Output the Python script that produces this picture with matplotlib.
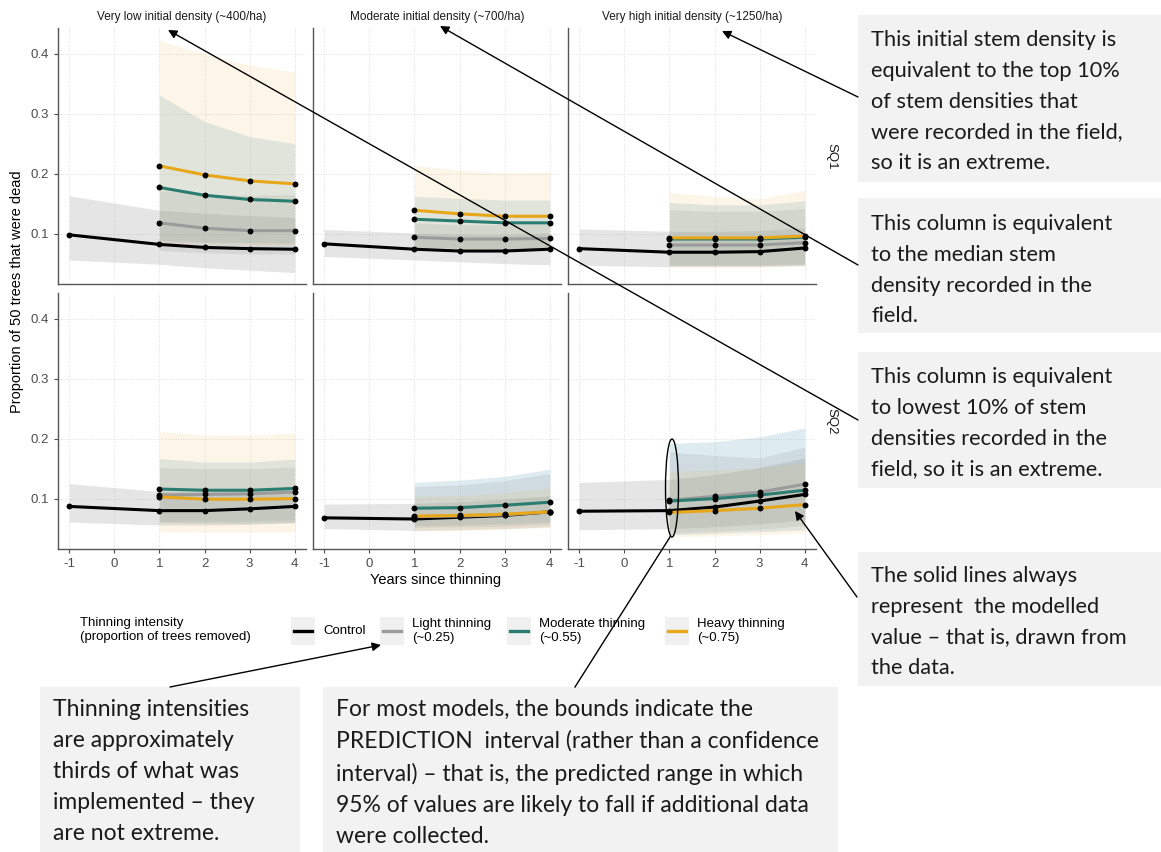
import matplotlib
matplotlib.use("Agg")
import matplotlib.pyplot as plt
import matplotlib.patches as patches
from matplotlib.lines import Line2D

plt.rcParams['font.family'] = ['Liberation Sans', 'DejaVu Sans']

# ---- data -------------------------------------------------------------
# panel order: SQ1 (low, moderate, very high), SQ2 (low, moderate, very high)
density_labels = ["Very low initial density (~400/ha)",
                  "Moderate initial density (~700/ha)",
                  "Very high initial density (~1250/ha)"]
site_labels = ["SQ1", "SQ2"]

years_control = [-1, 1, 2, 3, 4]
years_thin = [1, 2, 3, 4]

control_mean = [
    [0.098, 0.082, 0.077, 0.075, 0.074],
    [0.083, 0.074, 0.071, 0.071, 0.074],
    [0.075, 0.069, 0.069, 0.070, 0.076],
    [0.087, 0.080, 0.080, 0.083, 0.087],
    [0.068, 0.066, 0.069, 0.072, 0.078],
    [0.079, 0.080, 0.086, 0.096, 0.107],
]
control_lo = [
    [0.056, 0.049, 0.043, 0.039, 0.035],
    [0.062, 0.056, 0.053, 0.050, 0.048],
    [0.047, 0.045, 0.045, 0.045, 0.047],
    [0.061, 0.056, 0.056, 0.057, 0.060],
    [0.050, 0.047, 0.048, 0.050, 0.053],
    [0.048, 0.050, 0.053, 0.058, 0.064],
]
control_hi = [
    [0.163, 0.139, 0.134, 0.130, 0.127],
    [0.107, 0.101, 0.099, 0.099, 0.101],
    [0.108, 0.104, 0.104, 0.105, 0.110],
    [0.125, 0.112, 0.112, 0.115, 0.120],
    [0.091, 0.092, 0.095, 0.099, 0.105],
    [0.127, 0.132, 0.140, 0.152, 0.168],
]

light_mean = [
    [0.118, 0.109, 0.105, 0.105],
    [0.094, 0.091, 0.091, 0.092],
    [0.081, 0.081, 0.081, 0.085],
    [0.106, 0.107, 0.108, 0.111],
    [0.070, 0.071, 0.073, 0.078],
    [0.097, 0.104, 0.111, 0.124],
]
light_lo = [
    [0.072, 0.068, 0.066, 0.066],
    [0.074, 0.072, 0.072, 0.073],
    [0.048, 0.048, 0.048, 0.050],
    [0.062, 0.062, 0.063, 0.065],
    [0.052, 0.053, 0.054, 0.057],
    [0.043, 0.046, 0.049, 0.055],
]
light_hi = [
    [0.172, 0.166, 0.164, 0.165],
    [0.118, 0.115, 0.115, 0.116],
    [0.140, 0.137, 0.137, 0.142],
    [0.152, 0.150, 0.150, 0.153],
    [0.120, 0.123, 0.130, 0.142],
    [0.178, 0.172, 0.168, 0.186],
]

moderate_mean = [
    [0.177, 0.164, 0.157, 0.154],
    [0.124, 0.121, 0.118, 0.118],
    [0.091, 0.091, 0.091, 0.094],
    [0.116, 0.114, 0.114, 0.117],
    [0.084, 0.085, 0.089, 0.094],
    [0.096, 0.100, 0.106, 0.114],
]
moderate_lo = [
    [0.088, 0.086, 0.085, 0.084],
    [0.078, 0.076, 0.075, 0.075],
    [0.047, 0.047, 0.047, 0.048],
    [0.060, 0.059, 0.059, 0.060],
    [0.055, 0.056, 0.058, 0.061],
    [0.040, 0.042, 0.045, 0.048],
]
moderate_hi = [
    [0.331, 0.287, 0.262, 0.250],
    [0.162, 0.159, 0.156, 0.156],
    [0.152, 0.148, 0.148, 0.155],
    [0.167, 0.161, 0.161, 0.166],
    [0.127, 0.131, 0.137, 0.149],
    [0.192, 0.195, 0.203, 0.218],
]

heavy_mean = [
    [0.213, 0.198, 0.188, 0.183],
    [0.139, 0.133, 0.129, 0.129],
    [0.093, 0.093, 0.093, 0.096],
    [0.103, 0.099, 0.099, 0.100],
    [0.071, 0.072, 0.074, 0.078],
    [0.077, 0.080, 0.084, 0.090],
]
heavy_lo = [
    [0.086, 0.084, 0.082, 0.081],
    [0.076, 0.074, 0.073, 0.073],
    [0.044, 0.044, 0.044, 0.046],
    [0.045, 0.044, 0.044, 0.045],
    [0.046, 0.047, 0.049, 0.052],
    [0.036, 0.038, 0.040, 0.043],
]
heavy_hi = [
    [0.422, 0.400, 0.381, 0.369],
    [0.214, 0.206, 0.201, 0.203],
    [0.169, 0.162, 0.158, 0.172],
    [0.212, 0.206, 0.206, 0.209],
    [0.104, 0.105, 0.110, 0.118],
    [0.145, 0.148, 0.152, 0.160],
]

legend_labels = ["Control", "Light thinning\n(~0.25)",
                 "Moderate thinning\n(~0.55)", "Heavy thinning\n(~0.75)"]

# ---- styling ----------------------------------------------------------
line_cols = ["#000000", "#9b9b9b", "#2b7d71", "#e8a619"]
fill_cols = ["#999999", "#7f7f7f", "#5b9bb5", "#f2b544"]
fill_alpha = [0.25, 0.14, 0.20, 0.12]
axis_grey = "#4d4d4d"

W, H = 1161, 852
fig = plt.figure(figsize=(W / 100, H / 100), dpi=100)


def px_box(x, y, w, h):
    return [x / W, 1 - (y + h) / H, w / W, h / H]


col_x = [58, 313, 568]
row_y = [28, 293]
pan_w, pan_h = 248, 256

series = [
    (years_control, control_mean, control_lo, control_hi),
    (years_thin, light_mean, light_lo, light_hi),
    (years_thin, moderate_mean, moderate_lo, moderate_hi),
    (years_thin, heavy_mean, heavy_lo, heavy_hi),
]

for r in range(2):
    for c in range(3):
        k = r * 3 + c
        ax = fig.add_axes(px_box(col_x[c], row_y[r], pan_w, pan_h))
        ax.set_xlim(-1.25, 4.25)
        ax.set_ylim(0.016, 0.443)
        ax.set_xticks(range(-1, 5))
        ax.set_yticks([0.1, 0.2, 0.3, 0.4])
        ax.grid(True, color="#d4d4d4", lw=0.6, ls=(0, (1, 2)))
        ax.set_axisbelow(True)
        for s in ["top", "right"]:
            ax.spines[s].set_visible(False)
        for s in ["left", "bottom"]:
            ax.spines[s].set_color("#555555")
            ax.spines[s].set_linewidth(1.0)

        # prediction bands
        for i, (xs, m, lo, hi) in enumerate(series):
            ax.fill_between(xs, lo[k], hi[k], color=fill_cols[i],
                            alpha=fill_alpha[i], lw=0, zorder=1)
        # modelled lines and points
        for i, (xs, m, lo, hi) in enumerate(series):
            ax.plot(xs, m[k], color=line_cols[i], lw=2.2, zorder=3,
                    solid_capstyle="round")
        for i, (xs, m, lo, hi) in enumerate(series):
            ax.scatter(xs, m[k], s=18, color="black", zorder=4, lw=0)

        ax.tick_params(colors=axis_grey, labelsize=9.5, length=3, width=0.8)
        if c > 0:
            ax.tick_params(axis="y", left=False, labelleft=False)
        else:
            ax.set_yticklabels(["0.1", "0.2", "0.3", "0.4"])
        if r == 0:
            ax.tick_params(axis="x", bottom=False, labelbottom=False)
        else:
            ax.set_xticklabels(["-1", "0", "1", "2", "3", "4"])

        if r == 0:
            ax.set_title(density_labels[c], fontsize=8.5, color="#1a1a1a",
                         pad=6)
        if c == 2:
            ax.text(1.04, 0.5, site_labels[r], transform=ax.transAxes,
                    rotation=270, ha="left", va="center", fontsize=9.5,
                    color="#1a1a1a")

fig.text(17 / W, 1 - 292 / H, "Proportion of 50 trees that were dead",
         rotation=90, ha="center", va="center", fontsize=10.5)
fig.text(436 / W, 1 - 580 / H, "Years since thinning", ha="center",
         va="center", fontsize=10.5)

# ---- overlay in pixel space: legend, notes, arrows ----------------------
ov = fig.add_axes([0, 0, 1, 1], zorder=10)
ov.set_xlim(0, W)
ov.set_ylim(H, 0)
ov.axis("off")
ov.patch.set_alpha(0)

ov.text(80, 630, "Thinning intensity\n(proportion of trees removed)",
        ha="left", va="center", fontsize=9.5, linespacing=1.15)
key_x = [291, 380, 507, 665]
for i, kx in enumerate(key_x):
    ov.add_patch(patches.Rectangle((kx, 617), 24, 28, facecolor="#f0f0f0",
                                   edgecolor="none"))
    ov.add_line(Line2D([kx + 3, kx + 21], [631, 631], color=line_cols[i],
                       lw=2.4))
    ov.text(kx + 32, 631, legend_labels[i], ha="left", va="center",
            fontsize=9.5, linespacing=1.15)

# (x, y, w, h, text offset, font size, text)
notes = [
    (858, 15, 303, 167, 15, 15.7, "This initial stem density is\nequivalent to the top 10%\n"
     "of stem densities that\nwere recorded in the field,\nso it is an extreme."),
    (858, 198, 303, 135, 16, 15.7, "This column is equivalent\nto the median stem\n"
     "density recorded in the\nfield."),
    (858, 352, 303, 136, 15, 15.7, "This column is equivalent\nto lowest 10% of stem\n"
     "densities recorded in the\nfield, so it is an extreme."),
    (858, 552, 303, 134, 14, 15.7, "The solid lines always\nrepresent  the modelled\n"
     "value \u2013 that is, drawn from\nthe data."),
    (40, 687, 260, 165, 12, 16.5, "Thinning intensities\nare approximately\n"
     "thirds of what was\nimplemented \u2013 they\nare not extreme."),
    (323, 687, 515, 165, 12, 16.5, "For most models, the bounds indicate the\n"
     "PREDICTION  interval (rather than a confidence\n"
     "interval) \u2013 that is, the predicted range in which\n"
     "95% of values are likely to fall if additional data\nwere collected."),
]
for x, y, w, h, dy, fs, txt in notes:
    ov.add_patch(patches.Rectangle((x, y), w, h, facecolor="#f2f2f2",
                                   edgecolor="none"))
    ov.text(x + 13, y + dy, txt, ha="left", va="top", fontsize=fs,
            family=["Lato", "DejaVu Sans"], color="#1a1a1a",
            linespacing=31 / (fs * 100 / 72 * 0.85))

arrows = [
    ((858, 97), (722, 31)),
    ((858, 265), (440, 26)),
    ((858, 420), (168, 30)),
    ((857, 597), (795, 511)),
    ((170, 687), (381, 645)),
]
for tail, head in arrows:
    ov.annotate("", xy=head, xytext=tail,
                arrowprops=dict(arrowstyle="-|>", color="black", lw=1.0,
                                mutation_scale=13, shrinkA=0, shrinkB=0))
ov.add_line(Line2D([575, 670], [687, 537], color="black", lw=1.0))
ov.add_patch(patches.Ellipse((672, 488), 13, 98, facecolor="none",
                             edgecolor="black", lw=1.0))

fig.savefig("out.png", dpi=100)
